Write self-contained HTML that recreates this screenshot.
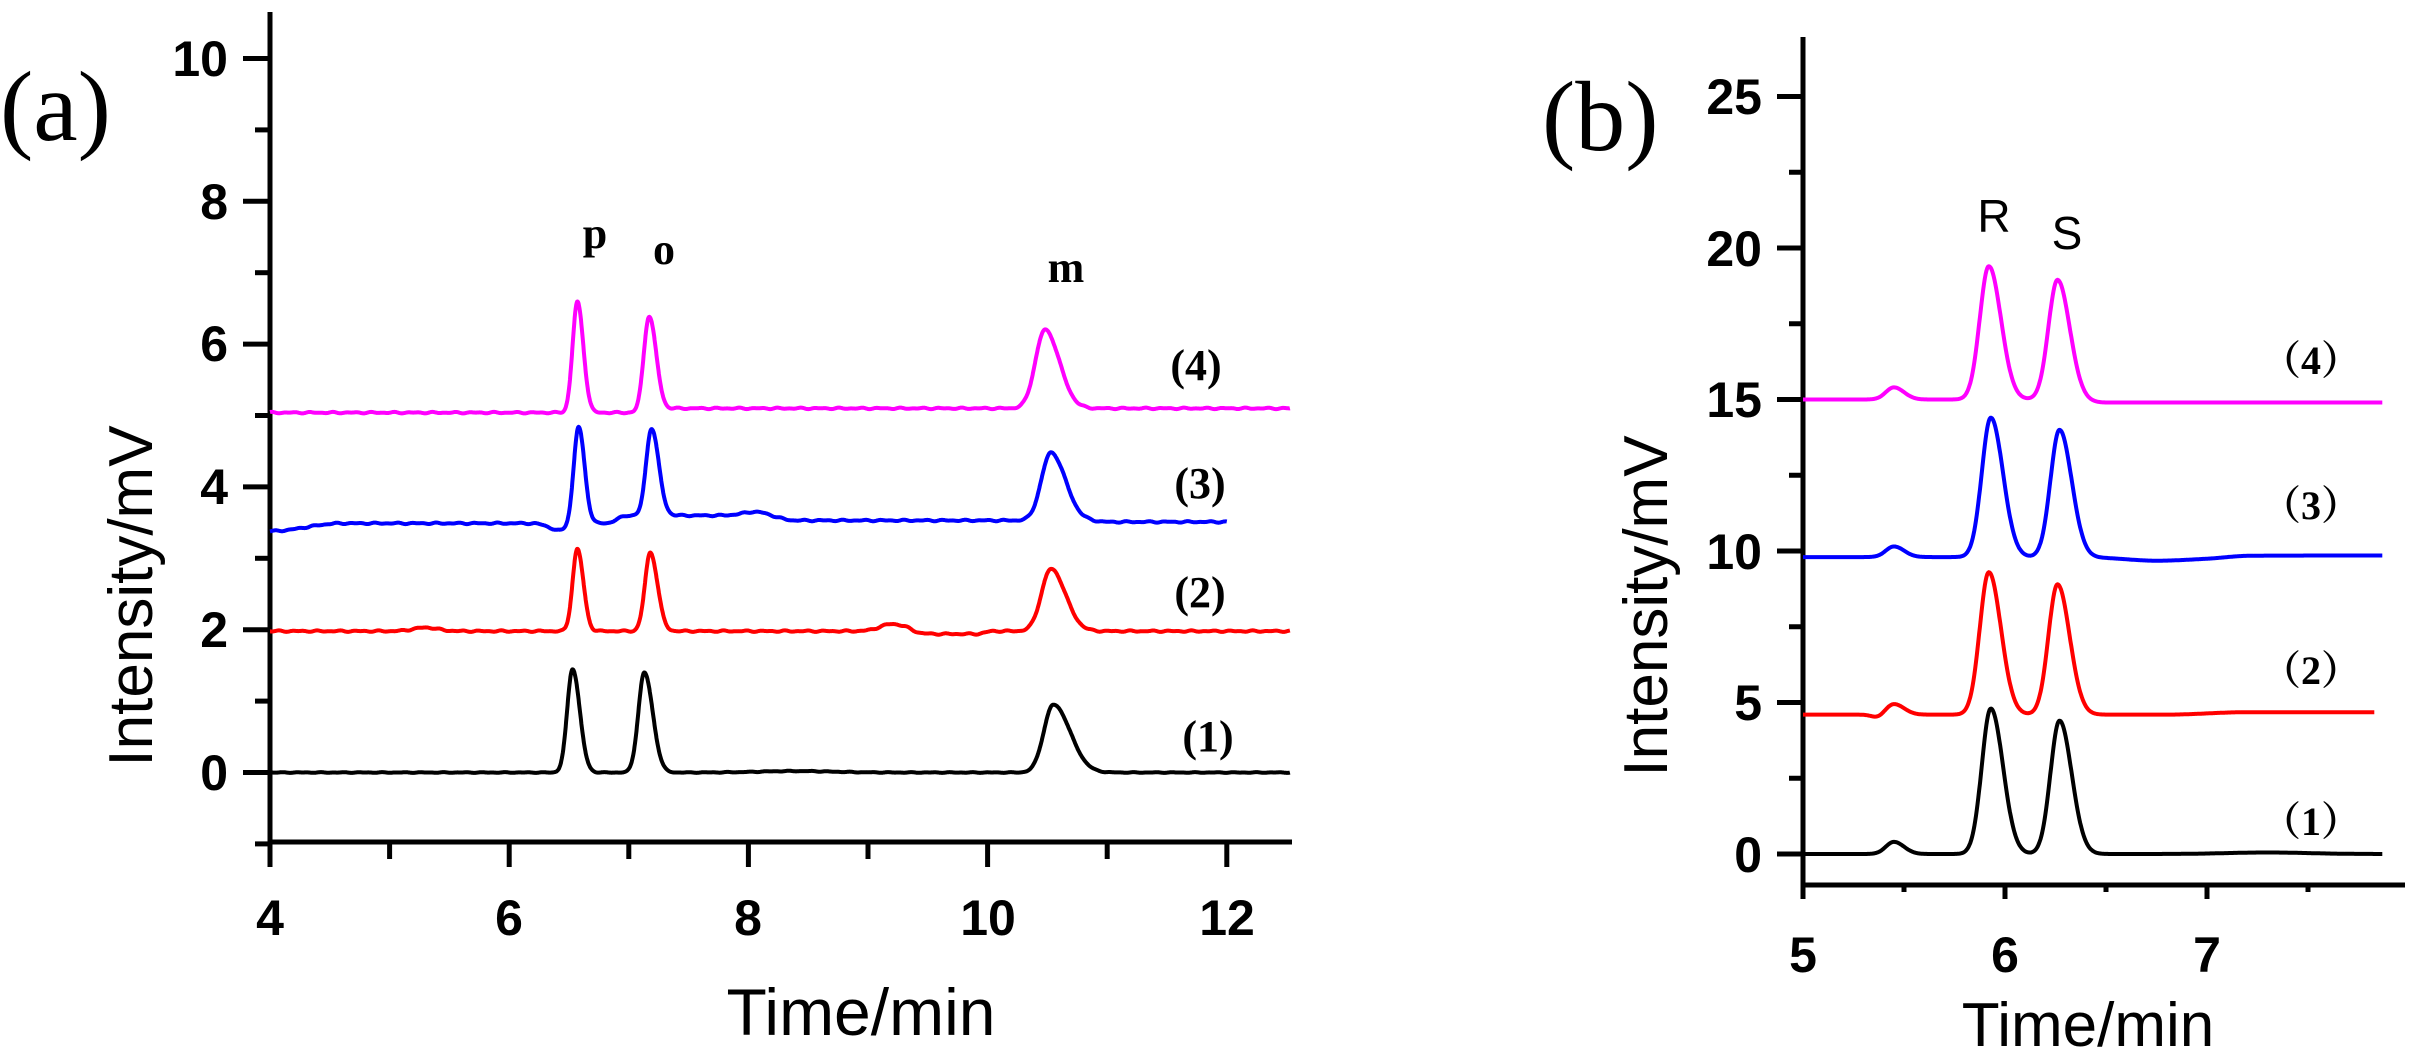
<!DOCTYPE html>
<html><head><meta charset="utf-8"><style>
html,body{margin:0;padding:0;background:#fff;}
svg{display:block;}
.t{font-family:"Liberation Sans",sans-serif;font-weight:bold;font-size:50px;fill:#000;}
.s{font-family:"Liberation Serif",serif;font-weight:bold;font-size:44px;fill:#000;}
</style></head><body>
<svg id="s" width="2415" height="1050" viewBox="0 0 2415 1050" xmlns="http://www.w3.org/2000/svg">
<!-- Panel a -->
<text x="0" y="140" font-family="Liberation Serif,serif" font-size="100">(a)</text>
<g stroke="#000" stroke-width="5" fill="none">
<line x1="270" y1="12" x2="270" y2="844"/>
<line x1="268" y1="842" x2="1292" y2="842"/>
</g>
<g id="aTicks" stroke="#000" stroke-width="5"></g>
<g class="t" text-anchor="end">
<text x="228" y="790">0</text><text x="228" y="647">2</text><text x="228" y="504">4</text>
<text x="228" y="361">6</text><text x="228" y="219">8</text><text x="228" y="76">10</text>
</g>
<g class="t" text-anchor="middle">
<text x="270" y="935">4</text><text x="509" y="935">6</text><text x="748" y="935">8</text>
<text x="988" y="935">10</text><text x="1227" y="935">12</text>
</g>
<text x="861" y="1035" text-anchor="middle" font-family="Liberation Sans,sans-serif" font-size="66">Time/min</text>
<text transform="translate(152,596) rotate(-90)" text-anchor="middle" font-family="Liberation Sans,sans-serif" font-size="62">Intensity/mV</text>
<g class="s" text-anchor="middle" font-size="48">
<text x="595" y="248">p</text><text x="664" y="264">o</text><text x="1066" y="282">m</text>
</g>
<g class="s" text-anchor="middle" font-size="42">
<text x="1196" y="380">(4)</text><text x="1200" y="498">(3)</text><text x="1200" y="607">(2)</text><text x="1208" y="751">(1)</text>
</g>
<g id="aCurves" fill="none" stroke-width="4" stroke-linejoin="round"></g>

<!-- Panel b -->
<text x="1542" y="150" font-family="Liberation Serif,serif" font-size="100">(b)</text>
<g stroke="#000" stroke-width="5" fill="none">
<line x1="1803" y1="37" x2="1803" y2="887"/>
<line x1="1801" y1="885" x2="2405" y2="885"/>
</g>
<g id="bTicks" stroke="#000" stroke-width="5"></g>
<g class="t" text-anchor="end">
<text x="1762" y="872">0</text><text x="1762" y="720">5</text><text x="1762" y="569">10</text>
<text x="1762" y="417">15</text><text x="1762" y="266">20</text><text x="1762" y="114">25</text>
</g>
<g class="t" text-anchor="middle">
<text x="1803" y="972">5</text><text x="2005" y="972">6</text><text x="2207" y="972">7</text>
</g>
<text x="2088" y="1046" text-anchor="middle" font-family="Liberation Sans,sans-serif" font-size="62">Time/min</text>
<text transform="translate(1667,606) rotate(-90)" text-anchor="middle" font-family="Liberation Sans,sans-serif" font-size="62">Intensity/mV</text>
<g font-family="Liberation Sans,sans-serif" font-size="46" text-anchor="middle">
<text x="1994" y="232">R</text><text x="2067" y="249">S</text>
</g>
<g font-family="Liberation Serif,Noto Serif CJK SC,serif" font-weight="bold" font-size="40" text-anchor="middle">
<text x="2311" y="374">（4）</text><text x="2311" y="519">（3）</text><text x="2311" y="684">（2）</text><text x="2311" y="835">（1）</text>
</g>
<g id="bCurves" fill="none" stroke-width="4" stroke-linejoin="round"></g>
</svg>
<script>
var NS="http://www.w3.org/2000/svg";
function el(p,tag,a){var e=document.createElementNS(NS,tag);for(var k in a)e.setAttribute(k,a[k]);p.appendChild(e);return e;}
var at=document.getElementById('aTicks');
for(var v=-1;v<=10;v++){var y=772.5-v*71.4;var maj=(v%2==0);el(at,'line',{x1:maj?243:255,y1:y,x2:270,y2:y});}
for(var t=4;t<=12;t++){var x=270+(t-4)*119.6;var maj=(t%2==0);el(at,'line',{x1:x,y1:842,x2:x,y2:maj?867:859});}
var bt=document.getElementById('bTicks');
for(var v=0;v<=25;v+=2.5){var y=854-v*30.3;var maj=(v%5==0);el(bt,'line',{x1:maj?1777:1789,y1:y,x2:1803,y2:y});}
for(var t=5;t<=7.5;t+=0.5){var x=1803+(t-5)*202;var maj=(t%1==0);el(bt,'line',{x1:x,y1:885,x2:x,y2:maj?899:892});}
function g(t,c,h,sl,sr){var s=t<c?sl:sr;var d=(t-c)/s;return h*Math.exp(-0.5*d*d);}
function sm(t,a,b){if(t<=a)return 0;if(t>=b)return 1;var u=(t-a)/(b-a);return u*u*(3-2*u);}
function noise(t,k){return 0.006*Math.sin(t*37+k)+0.005*Math.sin(t*61+2*k);}
function draw(par,col,t0,t1,f,X,Y){var d='';for(var t=t0;t<=t1;t+=0.004){d+=(d?'L':'M')+X(t).toFixed(1)+' '+Y(f(t)).toFixed(1);}el(par,'path',{d:d,stroke:col});}
var ac=document.getElementById('aCurves');
var XA=function(t){return 270+(t-4)*119.6;},YA=function(v){return 772.5-v*71.4;};
draw(ac,'#000',4,12.53,function(t){return g(t,6.53,1.45,0.045,0.06)+g(t,7.13,1.4,0.05,0.07)+g(t,10.55,0.95,0.08,0.14)+g(t,8.4,0.02,0.3,0.3)+noise(t,1)*0.5;},XA,YA);
draw(ac,'#f00',4,12.53,function(t){return 1.98+g(t,6.57,1.15,0.04,0.05)+g(t,7.18,1.1,0.045,0.06)+g(t,10.53,0.87,0.08,0.12)+g(t,9.2,0.1,0.1,0.12)+g(t,5.3,0.05,0.1,0.1)-0.04*sm(t,9.3,9.45)*(1-sm(t,9.9,10.05))+noise(t,2);},XA,YA);
draw(ac,'#00f',4,12.0,function(t){var b=3.38+0.11*sm(t,4,4.6)+0.11*sm(t,6.8,7.0)-0.07*sm(t,8.1,8.4)-0.02*sm(t,10.8,11);return b-g(t,6.42,0.1,0.08,0.05)+g(t,6.58,1.35,0.04,0.05)+g(t,7.19,1.22,0.045,0.06)+g(t,10.53,0.95,0.08,0.12)+g(t,8.05,0.05,0.1,0.1)+noise(t,3);},XA,YA);
draw(ac,'#f0f',4,12.53,function(t){var b=5.04+0.06*sm(t,7.2,7.4);return b+g(t,6.57,1.55,0.04,0.05)+g(t,7.17,1.35,0.045,0.06)+g(t,10.48,1.1,0.08,0.12)+noise(t,4);},XA,YA);
var bc=document.getElementById('bCurves');
var XB=function(t){return 1803+(t-5)*202;},YB=function(v){return 854-v*30.3;};
function pk(t,r,s,hr,hs,bh){return g(t,5.45,bh,0.04,0.05)+g(t,r,hr,0.045,0.06)+g(t,s,hs,0.045,0.06);}
draw(bc,'#000',5,7.87,function(t){return pk(t,5.93,6.27,4.8,4.4,0.4)+g(t,7.3,0.05,0.2,0.2);},XB,YB);
draw(bc,'#f00',5,7.83,function(t){return 4.6+pk(t,5.92,6.26,4.7,4.3,0.35)-g(t,5.37,0.1,0.03,0.03)+0.08*sm(t,6.8,7.2);},XB,YB);
draw(bc,'#00f',5,7.87,function(t){return 9.8+pk(t,5.93,6.27,4.6,4.2,0.35)-g(t,6.75,0.12,0.15,0.2)+0.05*sm(t,7,7.2);},XB,YB);
draw(bc,'#f0f',5,7.87,function(t){return 15.0-0.1*sm(t,6.3,6.5)+pk(t,5.92,6.26,4.4,3.95,0.4);},XB,YB);
</script>
</body></html>
